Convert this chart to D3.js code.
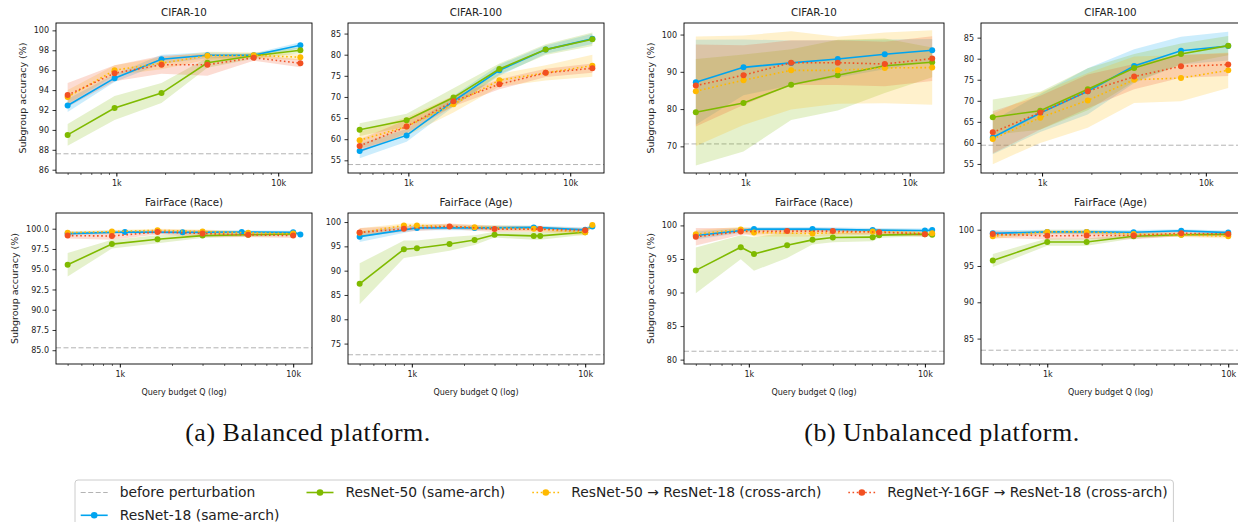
<!DOCTYPE html>
<html>
<head>
<meta charset="utf-8">
<script src="https://cdn.jsdelivr.net/npm/d3@7"></script>
<style>
  body { margin: 0; background: #fff; }
  svg { display: block; font-family: 'DejaVu Sans', sans-serif; }
</style>
</head>
<body>
<svg id="chart" width="1238" height="522"></svg>
<script>
// Series (order = drawing order)
const methods = [
  'ResNet-18 (same-arch)',
  'ResNet-50 (same-arch)',
  'ResNet-50 → ResNet-18 (cross-arch)',
  'RegNet-Y-16GF → ResNet-18 (cross-arch)',
];
const colors = ['#00a4ef', '#7fba00', '#ffb900', '#f25022'];
const dotted = [false, false, true, true];

// Query budgets
const qCifar = [500, 975, 1900, 3650, 7050, 13700];
const qFfA = [500, 900, 1650, 3000, 5500, 10000];
const qFfB = [500, 1070, 2300, 5050, 10000, 11000];
const qFfC = [500, 1000, 1650, 3000, 5500, 10000];

// (a) Balanced - CIFAR-10
const balC10Mean = [
  [92.45, 95.2, 97.1, 97.5, 97.5, 98.5],
  [89.5, 92.2, 93.7, 96.75, 97.45, 98.0],
  [93.3, 96.0, 96.7, 97.45, 97.5, 97.3],
  [93.5, 95.7, 96.55, 96.55, 97.25, 96.7],
];
const balC10Sd = [
  [0.65, 0.4, 0.45, 0.3, 0.2, 0.3],
  [1.1, 1.2, 1.0, 0.5, 0.3, 0.3],
  [0.7, 0.5, 0.6, 0.4, 0.3, 0.3],
  [1.2, 0.8, 0.9, 1.1, 0.3, 0.4],
];
const balC10Base = 87.6;

// (a) Balanced - CIFAR-100
const balC100Mean = [
  [57.2, 60.9, 69.0, 76.3, 81.2, 83.75],
  [62.25, 64.5, 69.85, 76.6, 81.2, 83.65],
  [59.75, 63.0, 68.3, 73.95, 75.7, 77.4],
  [58.4, 63.0, 69.0, 73.0, 75.7, 76.8],
];
const balC100Sd = [
  [1.7, 1.5, 1.3, 1.3, 1.0, 1.2],
  [1.5, 1.5, 2.2, 1.3, 1.3, 1.6],
  [2.0, 2.2, 2.0, 1.5, 1.8, 2.6],
  [1.6, 1.6, 1.2, 1.2, 1.0, 1.1],
];
const balC100Base = 54.0;

// (b) Unbalanced - CIFAR-10
const unbC10Mean = [
  [87.2, 91.2, 92.4, 93.45, 94.7, 95.8],
  [79.15, 81.65, 86.55, 89.1, 91.65, 92.55],
  [84.8, 87.75, 90.4, 90.4, 91.05, 91.15],
  [86.3, 89.1, 92.45, 92.45, 92.1, 93.55],
];
const unbC10Sd = [
  [11.4, 7.5, 6.0, 5.0, 4.0, 3.0],
  [14.3, 13.0, 9.5, 9.5, 7.3, 4.0],
  [14.7, 12.0, 10.5, 9.0, 9.5, 10.0],
  [11.0, 8.0, 6.0, 6.0, 6.0, 6.0],
];
const unbC10Base = 70.65;

// (b) Unbalanced - CIFAR-100
const unbC100Mean = [
  [61.3, 67.1, 72.25, 78.25, 81.9, 83.0],
  [66.1, 67.65, 72.75, 77.8, 81.1, 83.1],
  [60.95, 66.0, 70.1, 75.0, 75.4, 77.25],
  [62.5, 67.2, 72.25, 75.75, 78.2, 78.6],
];
const unbC100Sd = [
  [4.0, 4.5, 5.5, 4.0, 3.3, 3.4],
  [4.2, 4.5, 5.0, 3.3, 2.5, 2.3],
  [6.0, 6.0, 6.5, 5.5, 5.5, 4.2],
  [5.0, 4.0, 4.0, 3.0, 2.7, 2.7],
];
const unbC100Base = 59.45;

// (a) Balanced - FairFace (Race)
const balRaceQ = [qFfB, qFfA, qFfA, qFfA];
const balRaceMean = [
  [99.4, 99.6, 99.55, 99.6, 99.55, 99.3],
  [95.55, 98.1, 98.7, 99.15, 99.25, 99.35],
  [99.5, 99.65, 99.8, 99.65, 99.5, 99.4],
  [99.15, 99.1, 99.6, 99.4, 99.25, 99.15],
];
const balRaceSd = [
  [0.25, 0.2, 0.2, 0.2, 0.2, 0.2],
  [1.45, 0.55, 0.5, 0.3, 0.25, 0.25],
  [0.2, 0.2, 0.2, 0.25, 0.2, 0.2],
  [0.35, 0.45, 0.3, 0.4, 0.3, 0.3],
];
const balRaceBase = 85.3;

// (a) Balanced - FairFace (Age)
const balAgeQ = [
  qFfB,
  [500, 900, 1070, 1650, 2300, 3000, 5050, 5500, 10000],
  [500, 900, 1070, 2300, 5050, 10000, 11000],
  qFfA,
];
const balAgeMean = [
  [97.0, 98.8, 98.8, 98.9, 98.4, 99.1],
  [87.3, 94.4, 94.6, 95.5, 96.3, 97.4, 97.15, 97.15, 97.9],
  [97.8, 99.3, 99.3, 98.95, 98.6, 97.9, 99.4],
  [97.85, 98.6, 99.1, 98.55, 98.55, 98.3],
];
const balAgeSd = [
  [1.1, 0.5, 0.5, 0.4, 0.5, 0.4],
  [4.2, 1.8, 1.6, 1.4, 1.0, 0.6, 0.8, 0.8, 0.5],
  [0.9, 0.4, 0.4, 0.5, 0.6, 0.7, 0.3],
  [0.9, 0.6, 0.6, 0.6, 0.5, 0.5],
];
const balAgeBase = 72.7;

// (b) Unbalanced - FairFace (Race)
const unbRaceQ = [
  qFfB,
  [500, 900, 1070, 1650, 2300, 3000, 5050, 5500, 10000, 11000],
  [500, 900, 1070, 2300, 5050, 11000],
  qFfA,
];
const unbRaceMean = [
  [98.5, 99.45, 99.45, 99.3, 99.25, 99.3],
  [93.3, 96.75, 95.75, 97.05, 97.85, 98.2, 98.25, 98.55, 98.7, 98.6],
  [98.7, 99.4, 98.95, 98.8, 99.1, 98.85],
  [98.3, 99.1, 99.15, 99.15, 99.0, 98.7],
];
const unbRaceSd = [
  [0.6, 0.3, 0.3, 0.3, 0.3, 0.3],
  [3.4, 1.8, 2.5, 1.9, 0.7, 0.7, 0.6, 0.4, 0.3, 0.3],
  [0.6, 0.4, 0.6, 0.5, 0.4, 0.4],
  [1.3, 0.5, 0.4, 0.4, 0.4, 0.4],
];
const unbRaceBase = 81.25;

// (b) Unbalanced - FairFace (Age)
const unbAgeQ = [qFfC, qFfC, qFfC, qFfC];
const unbAgeMean = [
  [99.5, 99.7, 99.7, 99.65, 99.85, 99.6],
  [95.75, 98.3, 98.3, 99.1, 99.3, 99.35],
  [99.1, 99.7, 99.7, 99.4, 99.3, 99.1],
  [99.4, 99.15, 99.2, 99.2, 99.5, 99.4],
];
const unbAgeSd = [
  [0.4, 0.3, 0.3, 0.3, 0.2, 0.3],
  [0.9, 0.5, 0.5, 0.3, 0.2, 0.2],
  [0.4, 0.3, 0.3, 0.3, 0.3, 0.3],
  [0.5, 0.5, 0.5, 0.5, 0.4, 0.4],
];
const unbAgeBase = 83.4;

// y tick labels
const ticksBalC10 = [86, 88, 90, 92, 94, 96, 98, 100];
const ticksC100 = [55, 60, 65, 70, 75, 80, 85];
const ticksUnbC10 = [70, 80, 90, 100];
const ticksBalRace = [85, 87.5, 90, 92.5, 95, 97.5, 100];
const ticksBalAge = [75, 80, 85, 90, 95, 100];
const ticksUnbRace = [80, 85, 90, 95, 100];
const ticksUnbAge = [85, 90, 95, 100];

// Layout
const colLeft = [56, 348, 684, 981];
const colWidth = [256, 256, 260, 259];
const rowTop = [23, 213];
const rowHeight = [150, 151];

const cifarQ = [qCifar, qCifar, qCifar, qCifar];
const fmtInt = d3.format('d');
const fmtOne = d3.format('.1f');

const panels = [
  { title: 'CIFAR-10', col: 0, row: 0, q: cifarQ, mean: balC10Mean, sd: balC10Sd, base: balC10Base, yDom: [85.67, 100.74], ticks: ticksBalC10, fmt: fmtInt },
  { title: 'CIFAR-100', col: 1, row: 0, q: cifarQ, mean: balC100Mean, sd: balC100Sd, base: balC100Base, yDom: [52.0, 87.5], ticks: ticksC100, fmt: fmtInt },
  { title: 'CIFAR-10', col: 2, row: 0, q: cifarQ, mean: unbC10Mean, sd: unbC10Sd, base: unbC10Base, yDom: [62.85, 103.1], ticks: ticksUnbC10, fmt: fmtInt },
  { title: 'CIFAR-100', col: 3, row: 0, q: cifarQ, mean: unbC100Mean, sd: unbC100Sd, base: unbC100Base, yDom: [52.85, 88.48], ticks: ticksC100, fmt: fmtInt },
  { title: 'FairFace (Race)', col: 0, row: 1, q: balRaceQ, mean: balRaceMean, sd: balRaceSd, base: balRaceBase, yDom: [83.3, 101.94], ticks: ticksBalRace, fmt: fmtOne },
  { title: 'FairFace (Age)', col: 1, row: 1, q: balAgeQ, mean: balAgeMean, sd: balAgeSd, base: balAgeBase, yDom: [70.8, 101.86], ticks: ticksBalAge, fmt: fmtInt },
  { title: 'FairFace (Race)', col: 2, row: 1, q: unbRaceQ, mean: unbRaceMean, sd: unbRaceSd, base: unbRaceBase, yDom: [79.35, 101.85], ticks: ticksUnbRace, fmt: fmtInt },
  { title: 'FairFace (Age)', col: 3, row: 1, q: unbAgeQ, mean: unbAgeMean, sd: unbAgeSd, base: unbAgeBase, yDom: [81.5, 102.3], ticks: ticksUnbAge, fmt: fmtInt },
];

const svg = d3.select('#chart');
const textColor = '#222';

const drawPanel = (p, i) => {
  const x0 = colLeft[p.col], w = colWidth[p.col];
  const y0 = rowTop[p.row], h = rowHeight[p.row];
  const g = svg.append('g').attr('transform', `translate(${x0},${y0})`);

  // log x domain with 5% padding in log space (matplotlib style)
  const [lo, hi] = d3.extent(p.q.flat()).map(Math.log10);
  const pad = (hi - lo) * 0.05;
  const x = d3.scaleLog().domain([10 ** (lo - pad), 10 ** (hi + pad)]).range([0, w]);
  const y = d3.scaleLinear().domain(p.yDom).range([h, 0]);

  g.append('clipPath').attr('id', `clip-${i}`)
    .append('rect').attr('width', w).attr('height', h);
  const plot = g.append('g').attr('clip-path', `url(#clip-${i})`);

  // Baseline before perturbation
  plot.append('line')
    .attr('x1', 0).attr('x2', w)
    .attr('y1', y(p.base)).attr('y2', y(p.base))
    .attr('stroke', '#b3b3b3')
    .attr('stroke-width', 1)
    .attr('stroke-dasharray', '5,2.5');

  const series = methods.map((m, k) =>
    p.q[k].map((q, j) => ({ q, m: p.mean[k][j], s: p.sd[k][j] })),
  );

  // Std bands
  series.forEach((pts, k) => {
    plot.append('path')
      .datum(pts)
      .attr('d', d3.area().x((d) => x(d.q)).y0((d) => y(d.m - d.s)).y1((d) => y(d.m + d.s)))
      .attr('fill', colors[k])
      .attr('fill-opacity', 0.2);
  });

  // Lines + markers
  series.forEach((pts, k) => {
    plot.append('path')
      .datum(pts)
      .attr('d', d3.line().x((d) => x(d.q)).y((d) => y(d.m)))
      .attr('fill', 'none')
      .attr('stroke', colors[k])
      .attr('stroke-width', 1.6)
      .attr('stroke-dasharray', dotted[k] ? '1.6,2.6' : null);
    plot.selectAll(null)
      .data(pts)
      .enter()
      .append('circle')
      .attr('cx', (d) => x(d.q))
      .attr('cy', (d) => y(d.m))
      .attr('r', 3)
      .attr('fill', colors[k]);
  });

  // Frame
  g.append('rect')
    .attr('width', w).attr('height', h)
    .attr('fill', 'none')
    .attr('stroke', '#000')
    .attr('stroke-width', 0.9);

  // x axis: major + minor ticks
  const [dLo, dHi] = x.domain();
  const major = [], minor = [];
  for (let e = Math.floor(Math.log10(dLo)); e <= Math.ceil(Math.log10(dHi)); e++) {
    for (let m = 1; m < 10; m++) {
      const v = m * 10 ** e;
      if (v < dLo || v > dHi) continue;
      (m === 1 ? major : minor).push(v);
    }
  }
  const xg = g.append('g').attr('transform', `translate(0,${h})`);
  xg.call(d3.axisBottom(x).tickValues(minor).tickSize(2).tickFormat(''));
  xg.call((s) => s.selectAll('.tick line').attr('stroke-width', 0.6));
  const xgMaj = g.append('g').attr('transform', `translate(0,${h})`)
    .call(d3.axisBottom(x).tickValues(major).tickSize(3.5).tickPadding(3.5)
      .tickFormat((d) => (d >= 1000 ? d / 1000 + 'k' : d)));
  [xg, xgMaj].forEach((s) => {
    s.select('.domain').remove();
    s.selectAll('.tick line').attr('stroke', '#000');
    s.selectAll('text').attr('font-size', 8).attr('font-family', 'DejaVu Sans').attr('fill', textColor);
  });

  // y axis
  const yg = g.append('g')
    .call(d3.axisLeft(y).tickValues(p.ticks).tickSize(3.5).tickPadding(3.5).tickFormat(p.fmt));
  yg.select('.domain').remove();
  yg.selectAll('.tick line').attr('stroke', '#000').attr('stroke-width', 0.8);
  yg.selectAll('text').attr('font-size', 8).attr('font-family', 'DejaVu Sans').attr('fill', textColor);

  // Title
  g.append('text')
    .attr('x', w / 2).attr('y', -7)
    .attr('text-anchor', 'middle')
    .attr('font-size', 10.3)
    .attr('fill', textColor)
    .text(p.title);

  // Y label on the first panel of each group
  if (p.col === 0 || p.col === 2) {
    const bw = yg.node().getBBox().width;
    g.append('text')
      .attr('transform', `translate(${-bw - 11},${h / 2}) rotate(-90)`)
      .attr('dy', '0.35em')
      .attr('text-anchor', 'middle')
      .attr('font-size', 9.5)
      .attr('fill', textColor)
      .text('Subgroup accuracy (%)');
  }

  // X label on the bottom row
  if (p.row === 1) {
    g.append('text')
      .attr('x', w / 2).attr('y', h + 31)
      .attr('text-anchor', 'middle')
      .attr('font-size', 8)
      .attr('fill', textColor)
      .text('Query budget Q (log)');
  }
};

panels.forEach(drawPanel);

// Sub-figure captions
const captions = [
  { text: '(a) Balanced platform.', x: 308 },
  { text: '(b) Unbalanced platform.', x: 942 },
];
svg.selectAll('.caption')
  .data(captions)
  .enter()
  .append('text')
  .attr('class', 'caption')
  .attr('x', (d) => d.x)
  .attr('y', 441)
  .attr('text-anchor', 'middle')
  .attr('font-family', "'Liberation Serif', serif")
  .attr('font-size', 26)
  .attr('letter-spacing', 0.5)
  .attr('fill', '#111')
  .text((d) => d.text);

// Legend (4 columns, filled column-wise like matplotlib)
const legendEntries = [
  { label: 'before perturbation', color: '#b3b3b3', dash: '5,2.5', marker: false },
  { label: methods[0], color: colors[0], dash: null, marker: true },
  { label: methods[1], color: colors[1], dash: null, marker: true },
  { label: methods[2], color: colors[2], dash: '1.6,2.6', marker: true },
  { label: methods[3], color: colors[3], dash: '1.6,2.6', marker: true },
];
const legendCols = [[0, 1], [2], [3], [4]];
const legendFont = 13.85;
const legendTop = 480;
const rowY = [492.5, 515.3];
const handleLen = 27;
const textGap = 12;
const colGap = 27;
const legend = svg.append('g');
const legendBox = legend.append('rect');

let cx = 80.7;
legendCols.forEach((col) => {
  let maxW = 0;
  col.forEach((idx, r) => {
    const e = legendEntries[idx];
    const yy = rowY[r];
    legend.append('line')
      .attr('x1', cx).attr('x2', cx + handleLen)
      .attr('y1', yy).attr('y2', yy)
      .attr('stroke', e.color)
      .attr('stroke-width', e.marker ? 1.6 : 1)
      .attr('stroke-dasharray', e.dash);
    if (e.marker) {
      legend.append('circle')
        .attr('cx', cx + handleLen / 2).attr('cy', yy)
        .attr('r', 3.3)
        .attr('fill', e.color);
    }
    const t = legend.append('text')
      .attr('x', cx + handleLen + textGap).attr('y', yy)
      .attr('dy', '0.35em')
      .attr('font-size', legendFont)
      .attr('fill', textColor)
      .text(e.label);
    maxW = Math.max(maxW, t.node().getComputedTextLength());
  });
  cx = cx + handleLen + textGap + maxW + colGap;
});
const legendRight = cx - colGap + 5.6;
legendBox
  .attr('x', 75).attr('y', legendTop)
  .attr('width', legendRight - 75).attr('height', 56)
  .attr('rx', 3)
  .attr('fill', '#fff')
  .attr('stroke', '#cccccc')
  .attr('stroke-width', 1);
</script>
</body>
</html>
